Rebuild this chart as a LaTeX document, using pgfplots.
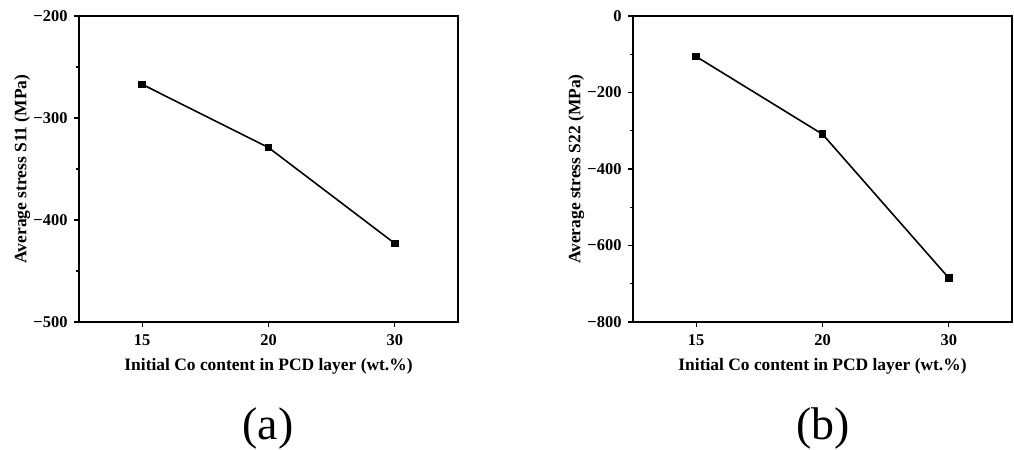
\documentclass[border=0pt]{standalone}
\usepackage{fontspec}
\setmainfont{Liberation Serif}
\usepackage{pgfplots}
\pgfplotsset{compat=1.18}
\begin{document}
\begin{tikzpicture}
\useasboundingbox (0bp,0bp) rectangle (1014bp,-450bp);
\pgfplotsset{myax/.style={
  scale only axis, width=379bp, height=306bp, anchor=south west,
  xmin=-0.5, xmax=2.5, xtick={0,1,2}, xticklabels={15,20,30},
  axis line style={line width=1.7bp}, tick style={black, line width=1.2bp},
  tick align=outside, xtick pos=bottom, ytick pos=left,
  major tick length=5bp, minor tick length=3bp, minor y tick num=1,
  ticklabel style={font=\fontsize{16.5}{16.5}\selectfont\bfseries},
  xticklabel style={yshift=-4bp},
  yticklabel style={xshift=-3bp},
  label style={font=\fontsize{17.5}{19}\selectfont\bfseries},
  xlabel={Initial Co content in PCD layer (wt.\%)},
  xlabel style={at={(axis description cs:0.5,0)}, anchor=center, yshift=-44bp},
  ylabel style={at={(axis description cs:-0.15,0.5)}, anchor=center},
}}
\begin{axis}[myax, at={(79bp,-322bp)},
  ymin=-500, ymax=-200, ytick={-500,-400,-300,-200},
  yticklabels={−500,−400,−300,−200},
  ylabel={Average stress S11 (MPa)}]
\addplot[black, line width=1.6bp, mark=square*, mark size=2.9bp] coordinates {(0,-267) (1,-329) (2,-423)};
\end{axis}
\begin{axis}[myax, at={(633bp,-322bp)},
  ymin=-800, ymax=0, ytick={-800,-600,-400,-200,0},
  yticklabels={−800,−600,−400,−200,0},
  ylabel={Average stress S22 (MPa)}]
\addplot[black, line width=1.6bp, mark=square*, mark size=2.9bp] coordinates {(0,-106) (1,-309) (2,-685)};
\end{axis}
\node[font=\fontsize{46}{46}\selectfont] at (268bp,-428bp) {(a)};
\node[font=\fontsize{46}{46}\selectfont] at (823bp,-428bp) {(b)};
\end{tikzpicture}
\end{document}
